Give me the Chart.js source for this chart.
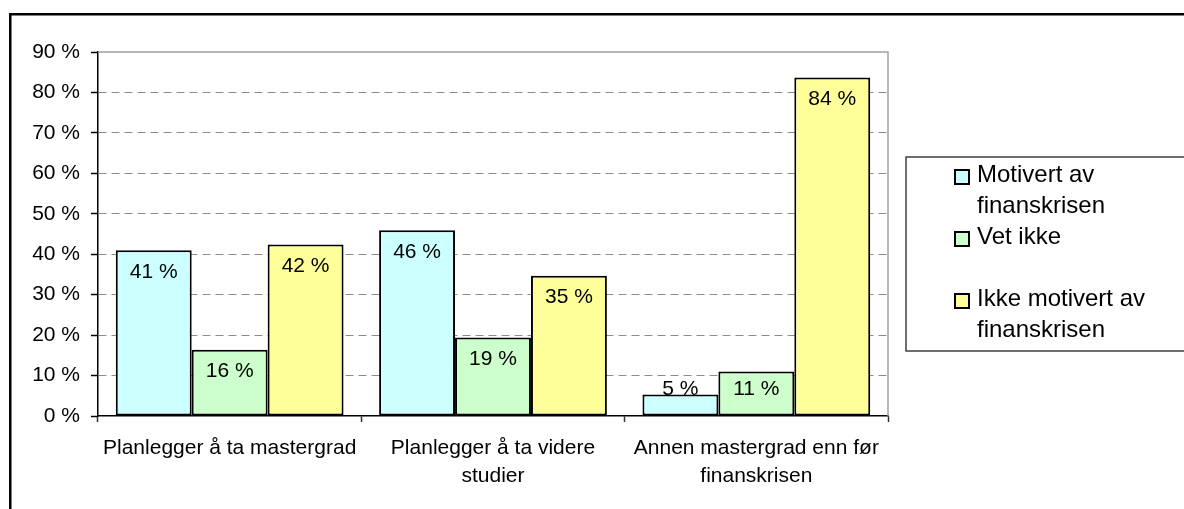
<!DOCTYPE html>
<html>
<head>
<meta charset="utf-8">
<script src="https://cdn.jsdelivr.net/npm/chart.js@4/dist/chart.umd.min.js"></script>
<style>
  html, body { margin: 0; padding: 0; background: #fff; overflow: hidden; }
  #wrap { width: 1184px; height: 509px; position: relative; }
</style>
</head>
<body>
<div id="wrap"><canvas id="barChart" width="1184" height="509"></canvas></div>
<script>
// --- data ---
const categories = [
    ['Planlegger å ta mastergrad'],
    ['Planlegger å ta videre', 'studier'],
    ['Annen mastergrad enn før', 'finanskrisen']
];
const seriesNames = ['Motivert av finanskrisen', 'Vet ikke', 'Ikke motivert av finanskrisen'];
const legendLines = [['Motivert av', 'finanskrisen'], ['Vet ikke'], ['Ikke motivert av', 'finanskrisen']];
const motivert = [41.0, 45.9, 5.3];
const vetIkke = [16.4, 19.4, 11.0];
const ikkeMotivert = [42.4, 34.7, 83.7];
const yTicks = [0, 10, 20, 30, 40, 50, 60, 70, 80, 90];
const colors = ['#ccffff', '#ccffcc', '#ffff99'];

const FONT = '"Liberation Sans", Arial, sans-serif';

// --- frame, plot border, labels and legend ---
const decor = {
    id: 'decor',
    beforeDraw(chart) {
        const c = chart.ctx;
        c.save();
        c.fillStyle = '#fff';
        c.fillRect(0, 0, chart.width, chart.height);
        c.fillStyle = '#000';
        c.fillRect(9, 13, chart.width, 2.5);
        c.fillRect(9, 13, 2.5, chart.height);
        c.restore();
    },
    afterDatasetsDraw(chart) {
        const c = chart.ctx;
        const a = chart.chartArea;
        c.save();
        // plot area frame (top + right)
        c.strokeStyle = '#a0a0a0';
        c.lineWidth = 1.5;
        c.beginPath();
        c.moveTo(a.left, a.top);
        c.lineTo(a.right, a.top);
        c.lineTo(a.right, a.bottom);
        c.stroke();

        // value labels
        c.fillStyle = '#000';
        c.font = '21px ' + FONT;
        c.textAlign = 'center';
        c.textBaseline = 'middle';
        chart.data.datasets.forEach((ds, i) => {
            chart.getDatasetMeta(i).data.forEach((bar, j) => {
                const y = Math.min(bar.y + 22, bar.base - 26);
                c.fillText(Math.round(ds.data[j]) + ' %', bar.x, y);
            });
        });

        // legend
        const lx = 906, ly = 157, lb = 351;
        c.strokeStyle = '#404040';
        c.lineWidth = 1.5;
        c.beginPath();
        c.moveTo(chart.width + 5, ly);
        c.lineTo(lx, ly);
        c.lineTo(lx, lb);
        c.lineTo(chart.width + 5, lb);
        c.stroke();

        c.font = '24px ' + FONT;
        c.textAlign = 'left';
        const lineH = 31, firstLine = 175;
        legendLines.forEach((lines, i) => {
            const y0 = firstLine + i * 2 * lineH;
            c.fillStyle = chart.data.datasets[i].backgroundColor;
            c.fillRect(955, y0 - 5, 14, 14);
            c.strokeStyle = '#000';
            c.lineWidth = 2;
            c.strokeRect(955, y0 - 5, 14, 14);
            c.fillStyle = '#000';
            lines.forEach((t, k) => c.fillText(t, 977, y0 + k * lineH));
        });
        c.restore();
    }
};

const ctx = document.getElementById('barChart').getContext('2d');
const datasets = [motivert, vetIkke, ikkeMotivert].map((d, i) => ({
    label: seriesNames[i],
    data: d,
    backgroundColor: colors[i],
    borderColor: '#000',
    borderWidth: 2,
    borderSkipped: false,
    barPercentage: 1,
    categoryPercentage: 0.865
}));

new Chart(ctx, {
    type: 'bar',
    data: { labels: categories, datasets: datasets },
    options: {
        responsive: false,
        animation: false,
        layout: { padding: { left: 0, top: 52, right: 296, bottom: 0 } },
        plugins: { legend: { display: false }, tooltip: { enabled: false } },
        scales: {
            x: {
                afterFit(s) { s.height = 93; },
                grid: { drawOnChartArea: false, offset: true, tickLength: 6, tickColor: '#333', tickWidth: 1.5 },
                border: { color: '#000', width: 1.5 },
                ticks: { color: '#000', font: { family: FONT, size: 21, lineHeight: 1.35 }, padding: 12, maxRotation: 0, autoSkip: false }
            },
            y: {
                min: 0,
                max: 90,
                afterFit(s) { s.width = 98; },
                afterBuildTicks(s) { s.ticks = yTicks.map(v => ({ value: v })); },
                grid: {
                    color: (c) => (c.tick && (c.tick.value === 0 || c.tick.value === 90)) ? 'rgba(0,0,0,0)' : '#8c8c8c',
                    lineWidth: 1,
                    tickLength: 7,
                    tickColor: '#000',
                    tickWidth: 1.5,
                    tickBorderDash: [],
                },
                border: { color: '#000', width: 1.5, dash: [8, 5] },
                ticks: { color: '#000', font: { family: FONT, size: 21 }, padding: 11, callback: (v) => v + ' %' }
            }
        }
    },
    plugins: [decor]
});
</script>
</body>
</html>
